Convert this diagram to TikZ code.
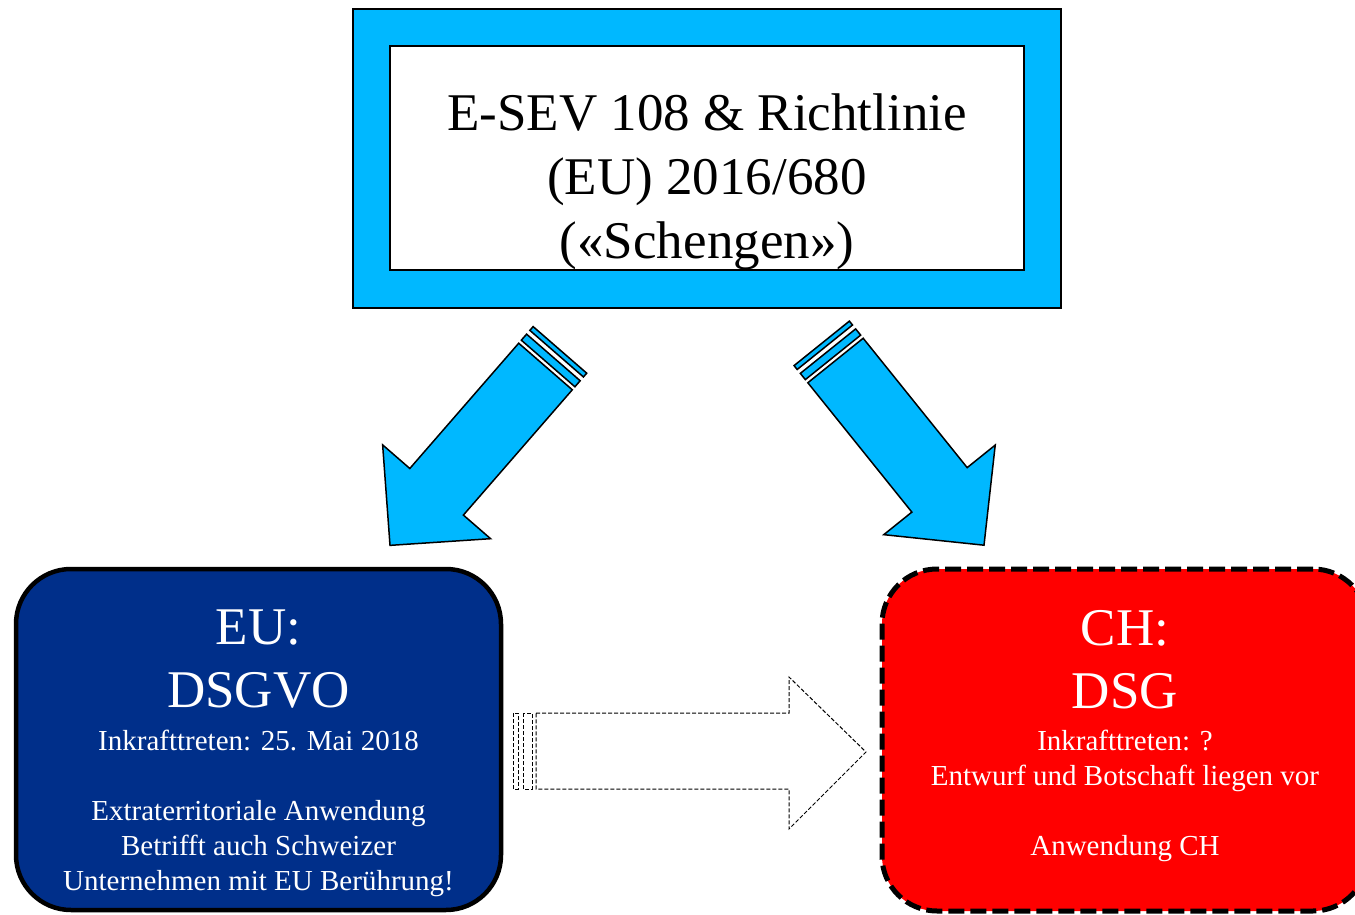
\documentclass[tikz,border=0pt]{standalone}
\usepackage{fontspec}
\setmainfont{Liberation Serif}
\definecolor{skyc}{RGB}{0,184,255}
\definecolor{eublue}{RGB}{0,47,138}
\definecolor{chred}{RGB}{255,0,0}
\begin{document}
\begin{tikzpicture}[x=1pt,y=-1pt,
  outerbox/.style={draw=black, line width=1.8pt, fill=skyc, inner sep=0pt},
  innerbox/.style={draw=black, line width=1.8pt, fill=white, inner sep=0pt},
  bigtext/.style={font=\fontsize{53}{64}\selectfont, align=center, inner sep=0pt},
  smalltext/.style={font=\fontsize{29}{35}\selectfont, align=center, inner sep=0pt, text=white},
  eubox/.style={draw=black, line width=4.5pt, fill=eublue, rounded corners=55pt, inner sep=0pt},
  chbox/.style={draw=black, line width=5pt, fill=chred, rounded corners=55pt, inner sep=0pt, dash pattern=on 16pt off 6pt},
  bluearrow/.style={draw=black, line width=1.5pt, fill=skyc, line join=miter},
  dasharrow/.style={draw=black, line width=1pt, dash pattern=on 4pt off 2pt}
]
\useasboundingbox (0,0) rectangle (1355,915);
\fill[white] (0,0) rectangle (1355,915);

% top source box
\node[outerbox, minimum width=708.5pt, minimum height=299.5pt] (src) at (707,158.5) {};
\node[innerbox, minimum width=634.5pt, minimum height=224.5pt] (srcin) at (707,158) {};
\node[bigtext, anchor=north] (srctext) at (707,94) {E-SEV 108 \& Richtlinie\\(EU) 2016/680\\(«Schengen»)};

% EU box
\node[eubox, minimum width=485pt, minimum height=341pt] (eu) at (258.5,739.5) {};
\node[bigtext, text=white, anchor=north, font=\fontsize{53}{63}\selectfont] (eutitle) at (258.5,610) {EU:\\DSGVO};
\node[smalltext, anchor=north] (eutext) at (258.5,730) {Inkrafttreten: 25. Mai 2018\\[35pt]Extraterritoriale Anwendung\\Betrifft auch Schweizer\\Unternehmen mit EU Berührung!};

% CH box
\node[chbox, minimum width=486pt, minimum height=342pt] (ch) at (1125,740) {};
\node[bigtext, text=white, anchor=north, font=\fontsize{53}{63}\selectfont] (chtitle) at (1125,610) {CH:\\DSG};
\node[smalltext, anchor=north] (chtext) at (1125,730) {Inkrafttreten: ?\\Entwurf und Botschaft liegen vor\\[35pt]Anwendung CH};

% left blue striped arrow
\begin{scope}[shift={(545.5,366.5)}, rotate=-131]
  \draw[bluearrow] (0,-35.5) -- (166,-35.5) -- (166,-71.5) -- (237,0) -- (166,71.5) -- (166,35.5) -- (0,35.5) -- cycle;
  \draw[bluearrow] (-12,-35.5) rectangle (-4,35.5);
  \draw[bluearrow] (-22,-35.5) rectangle (-17,35.5);
\end{scope}

% right blue striped arrow
\begin{scope}[shift={(835.5,360.5)}, rotate=-51.2]
  \draw[bluearrow] (0,-35.5) -- (166,-35.5) -- (166,-71.5) -- (237,0) -- (166,71.5) -- (166,35.5) -- (0,35.5) -- cycle;
  \draw[bluearrow] (-12,-35.5) rectangle (-4,35.5);
  \draw[bluearrow] (-22,-35.5) rectangle (-17,35.5);
\end{scope}

% dashed striped arrow EU -> CH
\draw[dasharrow] (536,713) -- (789,713) -- (789,677) -- (866,752) -- (789,829) -- (789,789) -- (536,789) -- cycle;
\draw[dasharrow] (523,713) rectangle (532,789);
\draw[dasharrow] (513,713) rectangle (518,789);
\end{tikzpicture}
\end{document}
